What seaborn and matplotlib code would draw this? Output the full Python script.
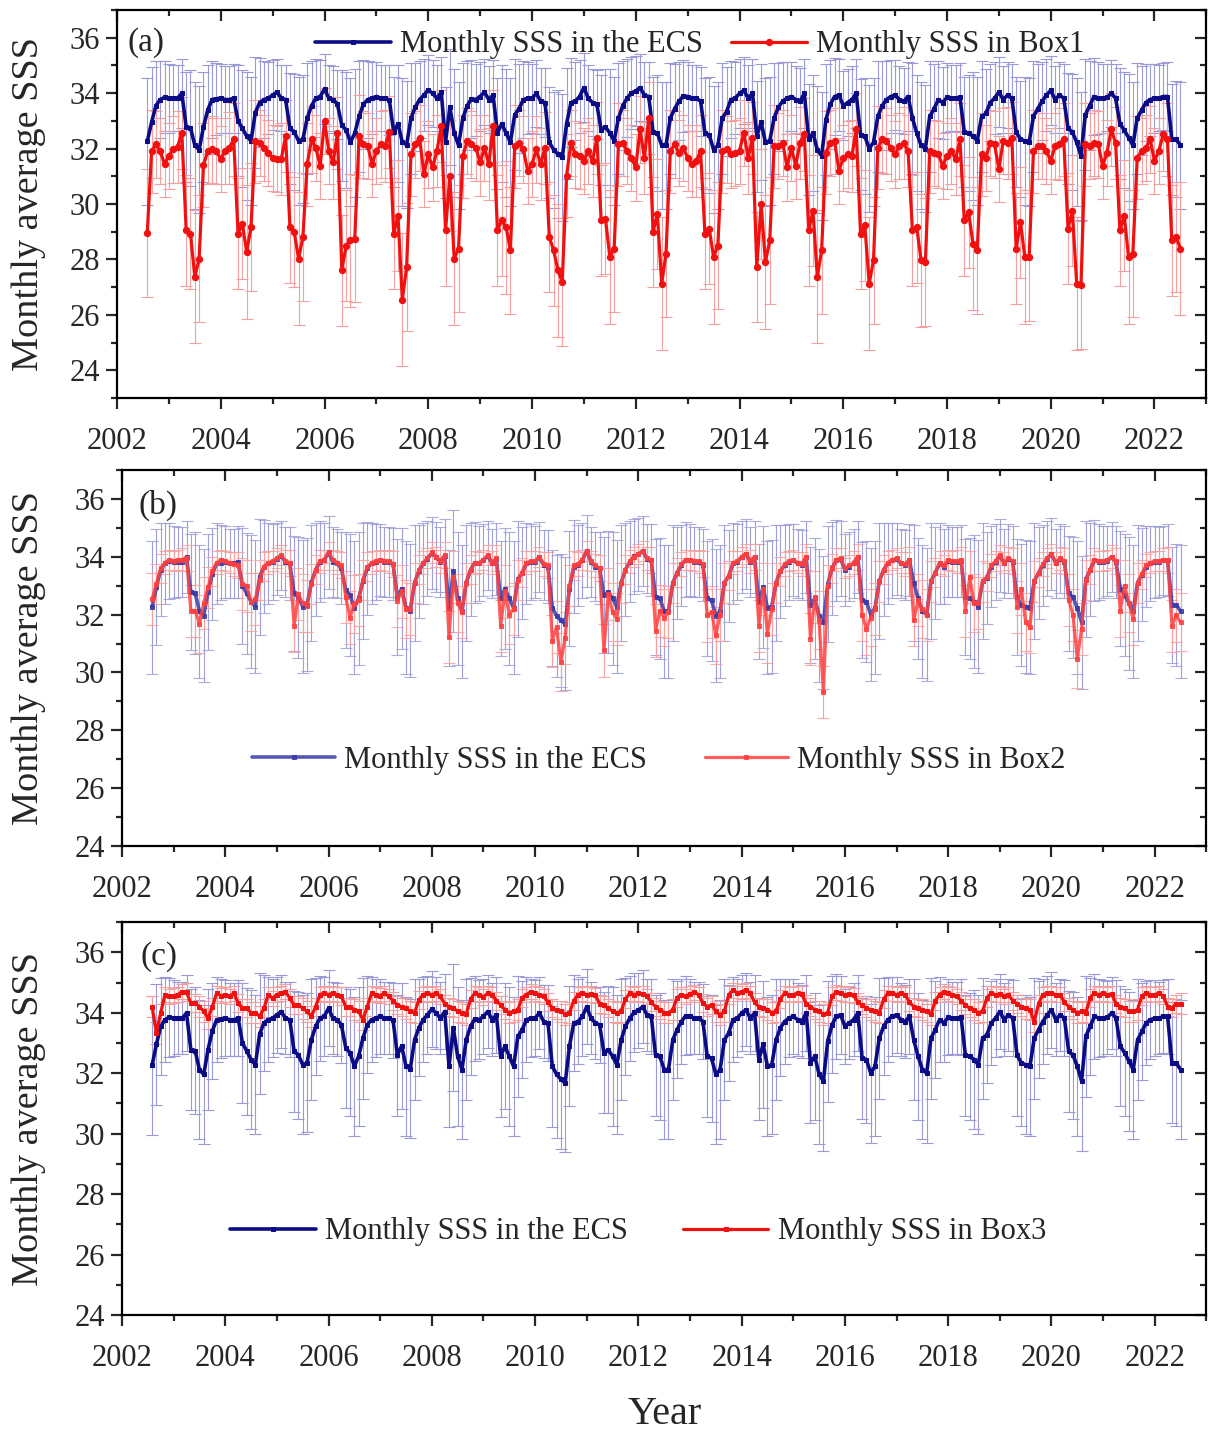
import numpy as np
import pandas as pd
import matplotlib
matplotlib.use("Agg")
import matplotlib.pyplot as plt
from matplotlib.ticker import MultipleLocator, NullFormatter
import seaborn as sns

sns.set_theme(style="ticks")
plt.rcParams["font.family"] = ["Liberation Serif", "DejaVu Serif"]

# meses: Ago/2002 ate Jul/2022
meses = pd.date_range("2002-08-01", "2022-07-01", freq="MS")
anos = meses.year + (meses.month - 1) / 12.0

# SSS mensal media no ECS
ecs_sss = [
    32.26, 32.95, 33.55, 33.77, 33.85,
    33.82, 33.82, 33.82, 33.99, 32.78, 32.75, 32.12, 31.96, 32.78, 33.40, 33.77, 33.80,
    33.82, 33.77, 33.77, 33.82, 33.00, 32.73, 32.45, 32.28, 33.30, 33.66, 33.77, 33.82,
    33.93, 34.04, 33.82, 33.77, 32.73, 32.60, 32.28, 32.34, 33.10, 33.55, 33.82, 33.88,
    34.15, 33.82, 33.77, 33.60, 32.84, 32.67, 32.23, 32.56, 33.16, 33.60, 33.77, 33.82,
    33.88, 33.82, 33.82, 33.75, 32.60, 32.90, 32.23, 32.14, 33.10, 33.50, 33.77, 33.93,
    34.12, 33.99, 33.82, 34.04, 32.23, 33.50, 32.56, 32.12, 33.10, 33.55, 33.80, 33.77,
    33.88, 34.04, 33.77, 33.93, 32.56, 32.90, 32.56, 32.23, 33.22, 33.44, 33.77, 33.82,
    33.82, 33.99, 33.71, 33.66, 32.23, 31.96, 31.80, 31.68, 32.90, 33.66, 33.71, 33.88,
    34.20, 33.82, 33.66, 33.60, 32.67, 32.78, 32.56, 32.28, 33.10, 33.55, 33.82, 34.01,
    34.08, 34.20, 33.93, 33.88, 32.60, 32.56, 32.12, 32.12, 33.10, 33.44, 33.71, 33.90,
    33.88, 33.82, 33.82, 33.71, 32.56, 32.50, 31.96, 32.12, 33.10, 33.33, 33.77, 33.82,
    33.99, 34.10, 33.82, 33.99, 32.45, 32.95, 32.23, 32.28, 33.10, 33.50, 33.71, 33.82,
    33.88, 33.77, 33.71, 33.99, 32.34, 32.56, 31.96, 31.74, 33.05, 33.60, 33.88, 33.93,
    33.55, 33.66, 33.77, 33.99, 32.50, 32.45, 32.00, 32.23, 33.16, 33.55, 33.77, 33.88,
    33.93, 33.77, 33.71, 33.88, 33.10, 32.56, 32.12, 32.00, 33.16, 33.44, 33.77, 33.66,
    33.85, 33.82, 33.82, 33.85, 32.60, 32.56, 32.45, 32.28, 33.16, 33.27, 33.66, 33.82,
    34.04, 33.77, 33.93, 33.82, 32.60, 32.34, 32.28, 32.23, 33.16, 33.44, 33.71, 33.93,
    34.10, 33.77, 33.93, 33.82, 32.73, 32.60, 32.23, 31.74, 33.22, 33.55, 33.88, 33.82,
    33.82, 33.85, 33.99, 33.82, 32.90, 32.67, 32.40, 32.12, 33.10, 33.38, 33.66, 33.77,
    33.82, 33.82, 33.88, 33.88, 32.34, 32.34, 32.12,
]

box1_sss = [
    28.95, 31.91, 32.15, 31.91, 31.44,
    31.73, 31.97, 32.06, 32.57, 29.05, 28.93, 27.37, 28.03, 31.41, 31.91, 31.97, 31.91,
    31.62, 31.91, 32.03, 32.33, 28.93, 29.29, 28.27, 29.17, 32.27, 32.21, 32.03, 31.85,
    31.67, 31.62, 31.62, 32.45, 29.17, 28.99, 28.03, 28.81, 31.44, 32.33, 32.03, 31.38,
    32.99, 31.91, 31.50, 32.57, 27.61, 28.50, 28.69, 28.75, 32.45, 32.15, 32.09, 31.44,
    31.91, 32.15, 32.09, 32.60, 28.93, 29.58, 26.54, 27.73, 31.79, 32.15, 32.39, 31.08,
    31.79, 31.32, 31.91, 32.81, 29.05, 31.02, 28.03, 28.39, 31.73, 32.27, 32.15, 32.03,
    31.50, 32.03, 31.44, 32.81, 29.05, 29.41, 29.17, 28.33, 32.09, 32.21, 31.97, 31.20,
    31.44, 31.97, 31.44, 32.03, 28.81, 28.33, 27.61, 27.19, 31.02, 32.21, 31.79, 31.73,
    31.56, 31.91, 31.56, 32.39, 29.41, 29.47, 28.09, 28.39, 32.15, 32.21, 31.91, 31.67,
    31.32, 32.69, 31.67, 33.10, 28.99, 29.64, 27.13, 28.21, 31.91, 32.15, 31.85, 32.03,
    31.67, 31.44, 31.56, 31.91, 28.93, 29.11, 28.09, 28.50, 31.91, 31.97, 31.79, 31.85,
    31.91, 32.57, 31.67, 32.39, 27.73, 30.00, 27.91, 28.69, 32.09, 32.09, 32.21, 31.32,
    32.03, 31.38, 32.21, 32.51, 29.05, 29.76, 27.37, 28.33, 31.85, 32.21, 32.27, 31.20,
    31.67, 31.79, 31.73, 32.69, 28.93, 29.23, 27.13, 27.97, 32.03, 32.33, 32.27, 32.03,
    31.79, 32.09, 32.21, 31.91, 29.05, 29.17, 27.97, 27.91, 31.91, 31.85, 31.79, 31.38,
    31.73, 31.91, 31.62, 32.33, 29.41, 29.70, 28.57, 28.33, 31.79, 31.67, 32.21, 32.15,
    31.26, 32.27, 32.21, 32.39, 28.39, 29.35, 28.09, 28.09, 31.91, 32.09, 32.09, 31.91,
    31.56, 32.09, 32.18, 32.33, 29.11, 29.76, 27.13, 27.08, 32.15, 32.09, 32.21, 32.15,
    31.38, 31.85, 32.69, 32.21, 29.05, 29.58, 28.09, 28.21, 31.67, 31.91, 32.03, 32.33,
    31.56, 31.91, 32.51, 32.33, 28.69, 28.81, 28.39,
]

box2_sss = [
    32.54, 33.06, 33.60, 33.80, 33.90,
    33.86, 33.90, 33.90, 33.97, 32.14, 32.14, 31.68, 32.40, 32.94, 33.50, 33.80, 33.90,
    33.86, 33.80, 33.75, 33.70, 33.06, 33.00, 32.43, 32.54, 33.20, 33.65, 33.80, 33.85,
    33.95, 34.05, 33.85, 33.80, 31.60, 32.70, 32.40, 32.30, 33.05, 33.55, 33.85, 33.90,
    34.15, 33.90, 33.80, 33.70, 32.60, 31.90, 32.37, 32.50, 33.20, 33.65, 33.80, 33.85,
    33.90, 33.85, 33.85, 33.75, 32.48, 32.80, 32.20, 32.20, 33.10, 33.55, 33.80, 33.95,
    34.15, 34.00, 33.85, 34.05, 31.22, 33.30, 32.40, 32.10, 33.10, 33.55, 33.80, 33.80,
    33.90, 34.05, 33.80, 33.95, 31.62, 32.80, 32.00, 32.20, 33.20, 33.45, 33.80, 33.85,
    33.85, 34.00, 33.75, 33.70, 31.10, 31.56, 30.36, 31.20, 33.00, 33.70, 33.75, 33.90,
    34.20, 33.85, 33.70, 33.60, 30.76, 32.70, 32.10, 31.85, 33.10, 33.55, 33.85, 34.00,
    34.10, 34.20, 33.95, 33.90, 31.45, 32.14, 31.90, 32.10, 33.10, 33.45, 33.75, 33.90,
    33.90, 33.85, 33.85, 33.75, 31.97, 32.10, 31.28, 32.00, 33.10, 33.35, 33.80, 33.85,
    34.00, 34.10, 33.85, 34.00, 31.62, 32.90, 31.33, 32.20, 33.10, 33.50, 33.75, 33.85,
    33.90, 33.80, 33.75, 34.00, 31.16, 32.60, 31.80, 29.32, 33.00, 33.60, 33.90, 33.95,
    33.60, 33.70, 33.80, 34.00, 32.00, 31.50, 31.90, 32.20, 33.15, 33.55, 33.80, 33.90,
    33.95, 33.80, 33.75, 33.90, 31.80, 32.50, 32.20, 32.00, 33.15, 33.45, 33.80, 33.70,
    33.90, 33.85, 33.85, 33.90, 32.14, 33.30, 32.40, 32.40, 33.15, 33.30, 33.70, 33.85,
    34.05, 33.80, 33.95, 33.85, 32.25, 32.90, 31.74, 31.56, 33.15, 33.45, 33.75, 33.95,
    34.10, 33.80, 33.95, 33.85, 32.50, 32.00, 30.47, 31.50, 33.20, 33.55, 33.90, 33.85,
    33.85, 33.90, 34.00, 33.85, 32.14, 33.00, 32.40, 31.85, 33.10, 33.40, 33.70, 33.80,
    33.85, 33.85, 33.90, 33.90, 31.62, 31.97, 31.74,
]

box3_sss = [
    34.20, 33.33, 34.00, 34.60, 34.54,
    34.56, 34.60, 34.70, 34.68, 34.32, 34.32, 34.20, 34.05, 33.82, 34.20, 34.65, 34.56,
    34.60, 34.54, 34.65, 34.32, 34.15, 34.15, 34.00, 34.00, 33.88, 34.15, 34.60, 34.48,
    34.60, 34.65, 34.70, 34.48, 34.26, 34.26, 34.15, 34.05, 33.88, 34.20, 34.60, 34.65,
    34.60, 34.65, 34.60, 34.54, 34.20, 34.20, 34.10, 34.05, 33.77, 34.20, 34.65, 34.60,
    34.56, 34.65, 34.54, 34.40, 34.26, 34.20, 34.15, 34.05, 34.00, 34.43, 34.60, 34.65,
    34.60, 34.65, 34.54, 34.30, 34.20, 34.15, 34.05, 34.00, 33.95, 34.45, 34.65, 34.60,
    34.52, 34.65, 34.60, 34.40, 34.26, 34.10, 34.00, 34.05, 34.10, 34.50, 34.60, 34.70,
    34.65, 34.60, 34.55, 34.35, 34.15, 34.10, 34.05, 33.95, 34.00, 34.40, 34.60, 34.65,
    34.60, 34.62, 34.58, 34.30, 34.25, 34.15, 34.05, 34.00, 34.05, 34.45, 34.65, 34.60,
    34.65, 34.62, 34.55, 34.35, 34.20, 34.10, 34.00, 34.00, 34.10, 34.50, 34.60, 34.55,
    34.62, 34.68, 34.60, 34.32, 34.20, 34.26, 34.05, 33.93, 34.05, 34.60, 34.75, 34.65,
    34.70, 34.75, 34.65, 34.35, 34.20, 34.15, 34.10, 34.00, 34.05, 34.45, 34.65, 34.60,
    34.60, 34.65, 34.62, 34.30, 34.20, 34.10, 34.05, 33.95, 34.00, 34.55, 34.68, 34.65,
    34.60, 34.62, 34.58, 34.35, 34.25, 34.15, 34.10, 34.05, 34.00, 34.45, 34.65, 34.65,
    34.60, 34.65, 34.60, 34.35, 34.20, 34.15, 34.10, 34.05, 33.95, 34.40, 34.60, 34.70,
    34.65, 34.60, 34.55, 34.40, 34.25, 34.15, 34.10, 34.00, 34.05, 34.50, 34.65, 34.60,
    34.62, 34.55, 34.60, 34.40, 34.30, 34.20, 34.15, 34.10, 33.70, 34.30, 34.60, 34.65,
    34.65, 34.60, 34.60, 34.35, 34.20, 34.10, 34.00, 34.05, 34.00, 34.50, 34.65, 34.60,
    34.65, 34.60, 34.62, 34.30, 34.20, 34.15, 34.05, 34.05, 34.10, 34.55, 34.65, 34.60,
    34.60, 34.65, 34.55, 34.20, 34.15, 34.30, 34.30,
]

# desvio padrao estimado por mes do ano (Jan..Dez)
ecs_std_mes = [1.25, 1.2, 1.2, 1.25, 2.0, 2.1, 2.3, 2.3, 2.0, 1.6, 1.4, 1.3]
box1_std_mes = [1.2, 1.2, 1.3, 1.3, 2.0, 2.0, 2.4, 2.3, 1.5, 1.2, 1.2, 1.2]
box2_std_mes = [0.35, 0.35, 0.4, 0.45, 0.9, 0.9, 1.0, 0.9, 0.7, 0.5, 0.4, 0.35]
box3_std_mes = [0.25, 0.25, 0.25, 0.3, 0.3, 0.3, 0.35, 0.35, 0.35, 0.3, 0.25, 0.25]

idx_mes = meses.month - 1
ecs_err = np.array(ecs_std_mes)[idx_mes]
box1_err = np.array(box1_std_mes)[idx_mes]
box2_err = np.array(box2_std_mes)[idx_mes]
box3_err = np.array(box3_std_mes)[idx_mes]

AZUL = "#0b0b85"
VERMELHO = "#f01010"


def desenhar(ax, y1, e1, y2, e2, c1, c2, ec1, ec2, lab2, mk2, ms2):
    ax.errorbar(anos, y1, yerr=e1, fmt="none", ecolor=ec1, elinewidth=0.8,
                capsize=4, capthick=0.8, zorder=1)
    ax.errorbar(anos, y2, yerr=e2, fmt="none", ecolor=ec2, elinewidth=0.8,
                capsize=4, capthick=0.8, zorder=2)
    sns.lineplot(x=anos, y=y1, ax=ax, color=c1, linewidth=2.6, marker="s",
                 markersize=3.5, markeredgecolor=c1, label="Monthly SSS in the ECS",
                 zorder=3)
    sns.lineplot(x=anos, y=y2, ax=ax, color=c2, linewidth=2.3, marker=mk2,
                 markersize=ms2, markeredgecolor=c2, label=lab2, zorder=4)


def eixos(ax, ymin):
    ax.set_xlim(2002, 2023)
    ax.set_ylim(ymin, 37)
    ax.set_xticks(range(2002, 2023, 2))
    ax.set_yticks(range(24, 37, 2))
    ax.xaxis.set_minor_locator(MultipleLocator(1))
    ax.yaxis.set_minor_locator(MultipleLocator(1))
    ax.tick_params(which="both", direction="out", width=1.6, labelsize=22,
                   top=False, right=False)
    ax.tick_params(which="major", length=8)
    ax.tick_params(which="minor", length=4.5)
    ax.tick_params(axis="x", pad=13)
    ax.tick_params(axis="y", pad=4)
    for s in ax.spines.values():
        s.set_linewidth(1.6)
        s.set_color("black")
    topo = ax.secondary_xaxis("top")
    topo.set_xticks(range(2002, 2023, 2))
    topo.xaxis.set_minor_locator(MultipleLocator(1))
    topo.xaxis.set_major_formatter(NullFormatter())
    topo.tick_params(which="both", direction="in", width=1.6)
    topo.tick_params(which="major", length=8)
    topo.tick_params(which="minor", length=4.5)
    dir_ = ax.secondary_yaxis("right")
    dir_.set_yticks(range(24, 37, 2))
    dir_.yaxis.set_minor_locator(MultipleLocator(1))
    dir_.yaxis.set_major_formatter(NullFormatter())
    dir_.tick_params(which="both", direction="in", width=1.6)
    dir_.tick_params(which="major", length=8)
    dir_.tick_params(which="minor", length=4.5)
    ax.set_xlabel("")
    ax.set_ylabel("Monthly average SSS", fontsize=27.5)


fig = plt.figure(figsize=(12.1, 14.32), dpi=100)
ax_a = fig.add_axes([0.0967, 0.722, 0.9003, 0.271])
ax_b = fig.add_axes([0.1008, 0.4092, 0.8962, 0.2626])
ax_c = fig.add_axes([0.1008, 0.0817, 0.8962, 0.2744])

# (a) ECS x Box1
desenhar(ax_a, ecs_sss, ecs_err, box1_sss, box1_err, AZUL, VERMELHO,
         "#9a9ad6", "#f4a0a0", "Monthly SSS in Box1", "o", 4.5)
eixos(ax_a, 23)
ax_a.legend(loc="center", bbox_to_anchor=(0.535, 0.91), ncol=2, frameon=False,
            fontsize=22, handlelength=2.5, handletextpad=0.3, columnspacing=0.9,
            numpoints=1)
ax_a.text(0.01, 0.915, "(a)", transform=ax_a.transAxes, fontsize=24,
          va="center", ha="left")
ax_a.yaxis.set_label_coords(-0.065, 0.5)

# (b) ECS x Box2
desenhar(ax_b, ecs_sss, ecs_err, box2_sss, box2_err, "#3a3aa8", "#ff4040",
         "#a0a0d8", "#f6a0a0", "Monthly SSS in Box2", "s", 3.0)
for ln in ax_b.get_lines():
    ln.set_alpha(0.85)
eixos(ax_b, 24)
ax_b.legend(loc="center", bbox_to_anchor=(0.495, 0.227), ncol=2, frameon=False,
            fontsize=22, handlelength=2.7, handletextpad=0.3, columnspacing=1.9,
            numpoints=1)
ax_b.text(0.015, 0.907, "(b)", transform=ax_b.transAxes, fontsize=24,
          va="center", ha="left")
ax_b.yaxis.set_label_coords(-0.07, 0.5)

# (c) ECS x Box3
desenhar(ax_c, ecs_sss, ecs_err, box3_sss, box3_err, AZUL, VERMELHO,
         "#9a9ad6", "#f4a0a0", "Monthly SSS in Box3", "s", 3.5)
eixos(ax_c, 24)
ax_c.legend(loc="center", bbox_to_anchor=(0.476, 0.212), ncol=2, frameon=False,
            fontsize=22, handlelength=2.8, handletextpad=0.3, columnspacing=1.8,
            numpoints=1)
ax_c.text(0.017, 0.911, "(c)", transform=ax_c.transAxes, fontsize=24,
          va="center", ha="left")
ax_c.yaxis.set_label_coords(-0.07, 0.5)

fig.text(0.549, 0.012, "Year", fontsize=29, ha="center", va="center")

fig.savefig("out.png", dpi=100)
